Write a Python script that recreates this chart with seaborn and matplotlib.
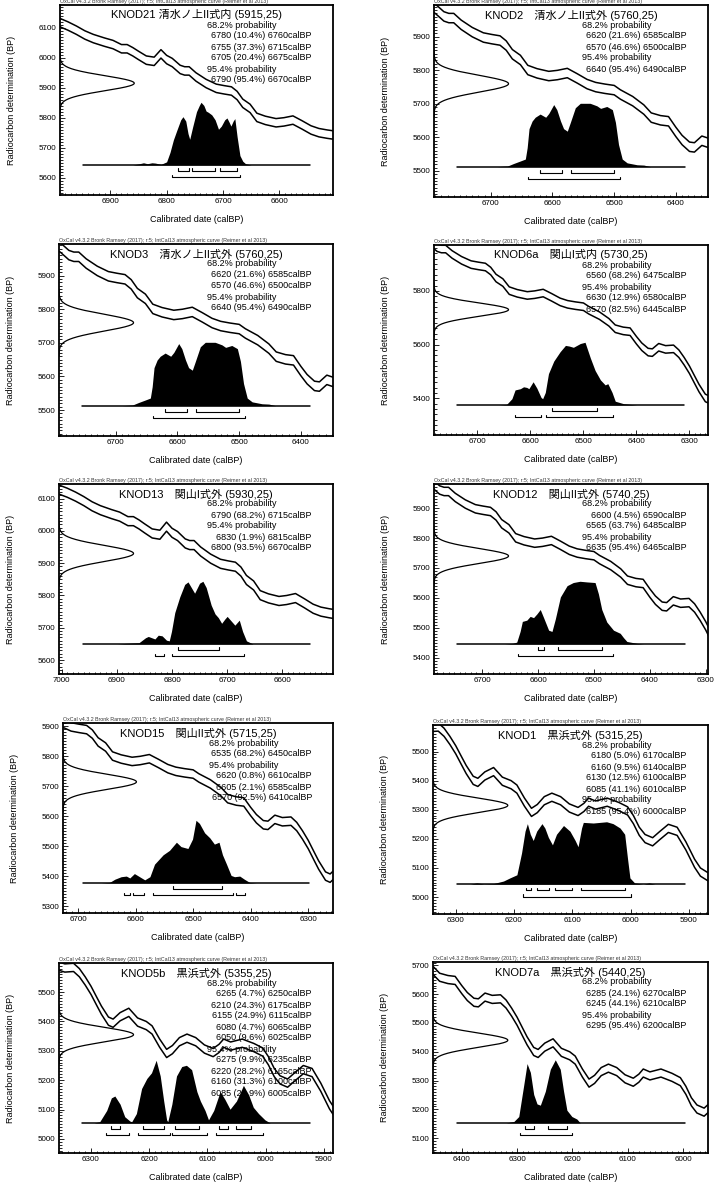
import numpy as np
import pandas as pd
import seaborn as sns
import matplotlib.pyplot as plt
from matplotlib.ticker import MultipleLocator
from matplotlib.transforms import blended_transform_factory

# IntCal13 midline (calBP -> 14C BP), band half-width
CURVE_CAL = [7010, 6990, 6975, 6960, 6945, 6930, 6910, 6895, 6880, 6870,
             6860, 6850, 6836, 6822, 6810, 6800, 6790, 6776, 6768, 6760,
             6748, 6730, 6712, 6698, 6685, 6675, 6665, 6652, 6640, 6625,
             6606, 6592, 6576, 6560, 6544, 6530, 6515, 6500, 6490, 6470,
             6452, 6440, 6425, 6412, 6400, 6390, 6378, 6370, 6358, 6345,
             6330, 6320, 6310, 6300, 6290, 6282, 6270, 6262, 6250, 6235,
             6220, 6205, 6195, 6182, 6170, 6160, 6148, 6135, 6120, 6105,
             6090, 6080, 6072, 6060, 6040, 6020, 6005, 5995, 5985, 5975,
             5962, 5950, 5935, 5920, 5905, 5890, 5880, 5860]
CURVE_BP = [6131, 6118, 6106, 6092, 6076, 6064, 6052, 6044, 6030, 6030,
            6020, 6008, 5992, 5988, 6013, 5994, 5984, 5961, 5956, 5956,
            5936, 5914, 5898, 5893, 5889, 5874, 5848, 5831, 5801, 5791,
            5783, 5786, 5792, 5776, 5759, 5750, 5745, 5741, 5728, 5708,
            5683, 5659, 5651, 5648, 5616, 5592, 5572, 5570, 5590, 5582,
            5584, 5566, 5538, 5506, 5468, 5438, 5401, 5394, 5416, 5431,
            5398, 5386, 5371, 5326, 5291, 5304, 5331, 5343, 5331, 5306,
            5294, 5308, 5326, 5316, 5326, 5311, 5296, 5266, 5226, 5201,
            5190, 5211, 5236, 5226, 5176, 5116, 5086, 5061]
CURVE_ERR = 14

# samples
TITLES = ["KNOD21 清水ノ上II式内 (5915,25)", "KNOD2\u3000清水ノ上II式外 (5760,25)",
          "KNOD3\u3000清水ノ上II式外 (5760,25)", "KNOD6a\u3000関山I式内 (5730,25)",
          "KNOD13\u3000関山I式外 (5930,25)", "KNOD12\u3000関山II式外 (5740,25)",
          "KNOD15\u3000関山II式外 (5715,25)", "KNOD1\u3000黒浜式外 (5315,25)",
          "KNOD5b\u3000黒浜式外 (5355,25)", "KNOD7a\u3000黒浜式外 (5440,25)"]
C14_BP = [5915, 5760, 5760, 5730, 5930, 5740, 5715, 5315, 5355, 5440]
C14_ERR = [25, 25, 25, 25, 25, 25, 25, 25, 25, 25]

# calibrated ranges (from, %, to)
r68_knod21 = [(6780, 10.4, 6760), (6755, 37.3, 6715), (6705, 20.4, 6675)]
r95_knod21 = [(6790, 95.4, 6670)]
r68_5760 = [(6620, 21.6, 6585), (6570, 46.6, 6500)]
r95_5760 = [(6640, 95.4, 6490)]
r68_knod6a = [(6560, 68.2, 6475)]
r95_knod6a = [(6630, 12.9, 6580), (6570, 82.5, 6445)]
r68_knod13 = [(6790, 68.2, 6715)]
r95_knod13 = [(6830, 1.9, 6815), (6800, 93.5, 6670)]
r68_knod12 = [(6600, 4.5, 6590), (6565, 63.7, 6485)]
r95_knod12 = [(6635, 95.4, 6465)]
r68_knod15 = [(6535, 68.2, 6450)]
r95_knod15 = [(6620, 0.8, 6610), (6605, 2.1, 6585), (6570, 92.5, 6410)]
r68_knod1 = [(6180, 5.0, 6170), (6160, 9.5, 6140), (6130, 12.5, 6100),
             (6085, 41.1, 6010)]
r95_knod1 = [(6185, 95.4, 6000)]
r68_knod5b = [(6265, 4.7, 6250), (6210, 24.3, 6175), (6155, 24.9, 6115),
              (6080, 4.7, 6065), (6050, 9.6, 6025)]
r95_knod5b = [(6275, 9.9, 6235), (6220, 28.2, 6165), (6160, 31.3, 6100),
              (6085, 25.9, 6005)]
r68_knod7a = [(6285, 24.1, 6270), (6245, 44.1, 6210)]
r95_knod7a = [(6295, 95.4, 6200)]
# KNOD15 95% bar is drawn split in the plot
bars95_knod15 = [(6620, 6610), (6605, 6585), (6570, 6430), (6425, 6410)]

# calibrated probability (relative)
post_knod21_cal = [6949, 6860, 6848, 6841, 6834, 6826, 6820, 6810, 6800, 6794,
                   6788, 6782, 6775, 6771, 6766, 6762, 6759, 6754, 6747, 6742,
                   6739, 6734, 6730, 6726, 6720, 6714, 6708, 6703, 6697, 6693,
                   6689, 6686, 6682, 6679, 6675, 6670, 6665, 6660, 6650, 6546]
post_knod21_p = [0, 0, 0.02, 0.035, 0.02, 0.035, 0.03, 0.01, 0.05, 0.2,
                 0.4, 0.55, 0.72, 0.77, 0.7, 0.5, 0.41, 0.6, 0.85, 0.95,
                 1.0, 0.95, 0.86, 0.84, 0.8, 0.72, 0.57, 0.62, 0.72, 0.75,
                 0.68, 0.62, 0.7, 0.74, 0.45, 0.15, 0.06, 0.02, 0, 0]

post_5760_cal = [6754, 6690, 6673, 6663, 6652, 6644, 6641, 6638, 6633, 6628,
                 6620, 6611, 6606, 6598, 6593, 6587, 6582, 6576, 6571, 6563,
                 6555, 6539, 6528, 6522, 6512, 6503, 6498, 6493, 6487, 6479,
                 6463, 6452, 6441, 6385]
post_5760_p = [0, 0, 0.01, 0.05, 0.09, 0.12, 0.3, 0.6, 0.72, 0.78,
               0.83, 0.78, 0.84, 0.98, 0.9, 0.72, 0.6, 0.56, 0.7, 0.93,
               1.0, 1.0, 0.96, 0.92, 0.95, 0.9, 0.7, 0.35, 0.12, 0.06,
               0.03, 0.025, 0, 0]

post_knod6a_cal = [6739, 6660, 6645, 6635, 6629, 6619, 6613, 6607, 6603, 6595,
                   6588, 6580, 6577, 6572, 6566, 6556, 6544, 6534, 6527, 6519,
                   6506, 6497, 6487, 6478, 6468, 6459, 6454, 6446, 6440, 6424,
                   6412, 6399, 6311]
post_knod6a_p = [0, 0, 0.01, 0.1, 0.24, 0.26, 0.29, 0.28, 0.26, 0.37,
                 0.27, 0.12, 0.1, 0.2, 0.5, 0.7, 0.85, 0.95, 0.94, 0.92,
                 0.98, 1.0, 0.75, 0.55, 0.4, 0.32, 0.34, 0.2, 0.06, 0.02,
                 0.01, 0, 0]

post_knod13_cal = [6962, 6900, 6883, 6860, 6848, 6843, 6837, 6831, 6825, 6818,
                   6810, 6805, 6801, 6795, 6786, 6777, 6771, 6765, 6759, 6750,
                   6744, 6738, 6729, 6722, 6716, 6710, 6704, 6700, 6692, 6686,
                   6678, 6672, 6665, 6653, 6550]
post_knod13_p = [0, 0, 0.01, 0.02, 0.1, 0.12, 0.1, 0.08, 0.14, 0.13,
                 0.06, 0.05, 0.2, 0.5, 0.75, 0.95, 0.99, 0.9, 0.81, 0.97,
                 1.0, 0.9, 0.62, 0.48, 0.42, 0.33, 0.4, 0.44, 0.36, 0.3,
                 0.38, 0.2, 0.05, 0, 0]

post_knod12_cal = [6745, 6660, 6645, 6638, 6632, 6628, 6620, 6614, 6608, 6602,
                   6596, 6590, 6581, 6575, 6569, 6560, 6548, 6537, 6525, 6513,
                   6498, 6492, 6486, 6477, 6465, 6453, 6447, 6441, 6423, 6411,
                   6337]
post_knod12_p = [0, 0, 0.01, 0.03, 0.2, 0.36, 0.38, 0.44, 0.42, 0.48,
                 0.55, 0.42, 0.22, 0.2, 0.4, 0.75, 0.93, 0.98, 1.0, 0.99,
                 0.98, 0.8, 0.55, 0.35, 0.22, 0.17, 0.1, 0.04, 0.01, 0,
                 0]

post_knod15_cal = [6692, 6660, 6645, 6636, 6625, 6616, 6610, 6602, 6593, 6584,
                   6575, 6567, 6552, 6541, 6529, 6521, 6509, 6501, 6495, 6489,
                   6480, 6471, 6463, 6455, 6449, 6442, 6434, 6428, 6419, 6411,
                   6402, 6390, 6298]
post_knod15_p = [0, 0, 0.01, 0.06, 0.1, 0.11, 0.08, 0.15, 0.1, 0.05,
                 0.1, 0.3, 0.45, 0.52, 0.65, 0.58, 0.55, 0.7, 1.0, 0.95,
                 0.8, 0.72, 0.62, 0.65, 0.45, 0.3, 0.12, 0.1, 0.11, 0.06,
                 0.01, 0, 0]

post_knod1_cal = [6298, 6275, 6264, 6252, 6235, 6218, 6207, 6195, 6187, 6181,
                  6177, 6172, 6167, 6161, 6152, 6147, 6141, 6134, 6127, 6115,
                  6104, 6095, 6090, 6084, 6081, 6064, 6041, 6030, 6018, 6010,
                  6005, 6001, 5993, 5978, 5968, 5958, 5907]
post_knod1_p = [0, 0, 0.02, 0.005, 0.01, 0.05, 0.1, 0.15, 0.5, 0.85,
                0.97, 0.8, 0.7, 0.85, 0.97, 0.9, 0.75, 0.63, 0.8, 0.94,
                0.85, 0.7, 0.6, 0.9, 0.99, 0.98, 1.0, 0.97, 0.9, 0.8,
                0.4, 0.1, 0.02, 0, 0.02, 0, 0]

post_knod5b_cal = [6315, 6295, 6285, 6273, 6265, 6259, 6250, 6242, 6233, 6230,
                   6222, 6213, 6204, 6196, 6188, 6181, 6175, 6170, 6168, 6161,
                   6153, 6144, 6136, 6127, 6118, 6112, 6104, 6098, 6089, 6078,
                   6070, 6061, 6050, 6038, 6029, 6021, 6012, 6001, 5992, 5923]
post_knod5b_p = [0, 0, 0.02, 0.2, 0.4, 0.43, 0.3, 0.1, 0.03, 0.02,
                 0.15, 0.55, 0.71, 0.8, 1.0, 0.75, 0.35, 0.05, 0.02, 0.3,
                 0.75, 0.9, 0.92, 0.85, 0.5, 0.35, 0.2, 0.05, 0.2, 0.5,
                 0.38, 0.22, 0.35, 0.6, 0.45, 0.25, 0.15, 0.05, 0, 0]

post_knod7a_cal = [6408, 6320, 6306, 6297, 6288, 6282, 6276, 6270, 6264, 6258,
                   6249, 6240, 6231, 6222, 6216, 6210, 6201, 6192, 6186, 5996]
post_knod7a_p = [0, 0, 0.02, 0.1, 0.6, 0.94, 0.8, 0.45, 0.3, 0.28,
                 0.5, 0.85, 1.0, 0.85, 0.5, 0.2, 0.1, 0.06, 0, 0]

R68 = [r68_knod21, r68_5760, r68_5760, r68_knod6a, r68_knod13, r68_knod12,
       r68_knod15, r68_knod1, r68_knod5b, r68_knod7a]
R95 = [r95_knod21, r95_5760, r95_5760, r95_knod6a, r95_knod13, r95_knod12,
       r95_knod15, r95_knod1, r95_knod5b, r95_knod7a]
POST = [(post_knod21_cal, post_knod21_p), (post_5760_cal, post_5760_p),
        (post_5760_cal, post_5760_p), (post_knod6a_cal, post_knod6a_p),
        (post_knod13_cal, post_knod13_p), (post_knod12_cal, post_knod12_p),
        (post_knod15_cal, post_knod15_p), (post_knod1_cal, post_knod1_p),
        (post_knod5b_cal, post_knod5b_p), (post_knod7a_cal, post_knod7a_p)]

# layout: panel box in pixels (left, top, right, bottom), axis ranges, y step
RECTS = [(60, 5, 333, 195), (434, 5, 708, 197),
         (59, 244, 333, 436), (434, 245, 708, 435),
         (59, 484, 333, 674), (434, 484, 708, 674),
         (63, 723, 333, 913), (433, 725, 708, 914),
         (59, 963, 333, 1153), (433, 962, 708, 1153)]
XLIMS = [(6989, 6505), (6792, 6348), (6792, 6348), (6782, 6265), (7005, 6508),
         (6786, 6296), (6726, 6257), (6339, 5867), (6355, 5884), (6452, 5955)]
YLIMS = [(5542, 6176), (5422, 5995), (5423, 5994), (5263, 5971), (5557, 6145),
         (5345, 5981), (5278, 5911), (4942, 5591), (4952, 5599), (5048, 5712)]
YSTEP = [100, 100, 100, 200, 100, 100, 100, 100, 100, 100]

HEADER = ("OxCal v4.3.2 Bronk Ramsey (2017); r:5; "
          "IntCal13 atmospheric curve (Reimer et al 2013)")

sns.set_theme(style="white", rc={"axes.edgecolor": "black",
                                 "xtick.color": "black", "ytick.color": "black",
                                 "text.color": "black", "axes.labelcolor": "black"})
plt.rcParams["font.family"] = ["Liberation Sans", "Noto Sans CJK JP", "DejaVu Sans"]

W, H = 720, 1184
fig = plt.figure(figsize=(W / 100, H / 100), dpi=100)

curve = pd.DataFrame({"cal": CURVE_CAL, "bp": CURVE_BP})
curve["hi"] = curve["bp"] + CURVE_ERR
curve["lo"] = curve["bp"] - CURVE_ERR

BASE = 0.158   # posterior baseline (axes fraction)
PH = 0.33      # posterior max height
GW = 0.272     # gaussian max width

for i, title in enumerate(TITLES):
    l, t, r, b = RECTS[i]
    ax = fig.add_axes([l / W, 1 - b / H, (r - l) / W, (b - t) / H])
    hpx = b - t

    # calibration curve band
    for col in ["hi", "lo"]:
        sns.lineplot(data=curve, x="cal", y=col, ax=ax, color="black",
                     lw=1.1, estimator=None, sort=False)

    # measured date on the y axis
    mu, sd = C14_BP[i], C14_ERR[i]
    yy = np.linspace(mu - 4 * sd, mu + 4 * sd, 300)
    dens = np.exp(-0.5 * ((yy - mu) / sd) ** 2)
    tr_y = blended_transform_factory(ax.transAxes, ax.transData)
    ax.plot(dens * GW, yy, transform=tr_y, color="black", lw=0.9)

    # calibrated distribution
    tr_x = blended_transform_factory(ax.transData, ax.transAxes)
    pc, pp = POST[i]
    pc = np.array(pc)
    pp = np.array(pp)
    ax.fill_between(pc, BASE, BASE + PH * pp, transform=tr_x,
                    color="black", lw=0)
    ax.plot([pc.min(), pc.max()], [BASE, BASE], transform=tr_x,
            color="black", lw=1.1)

    # range bars
    tick = 2.6 / hpx
    y68 = BASE - 6 / hpx
    y95 = BASE - 12.5 / hpx
    bars95 = bars95_knod15 if i == 6 else [(a, c) for a, _, c in R95[i]]
    for rows, yb in [([(a, c) for a, _, c in R68[i]], y68), (bars95, y95)]:
        for a, c in rows:
            ax.plot([a, a, c, c], [yb + tick, yb, yb, yb + tick],
                    transform=tr_x, color="black", lw=0.8)

    # texts
    ax.text(0.5, 1 - 10 / hpx, title, transform=ax.transAxes,
            ha="center", va="center", fontsize=8)
    lines = [("68.2% probability", "l")]
    lines += [(f"{a} ({p:.1f}%) {c}calBP", "r") for a, p, c in R68[i]]
    lines += [("95.4% probability", "l")]
    lines += [(f"{a} ({p:.1f}%) {c}calBP", "r") for a, p, c in R95[i]]
    for k, (s, side) in enumerate(lines):
        yk = 1 - (20 + 11 * k) / hpx
        if side == "l":
            ax.text(0.54, yk, s, transform=ax.transAxes, ha="left",
                    va="center", fontsize=6.5)
        else:
            ax.text(0.922, yk, s, transform=ax.transAxes, ha="right",
                    va="center", fontsize=6.5)
    ax.text(0.0, 1.004, HEADER, transform=ax.transAxes, ha="left",
            va="bottom", fontsize=3.8, color="#333333")

    # axes
    ax.set_xlim(*XLIMS[i])
    ax.set_ylim(*YLIMS[i])
    ax.xaxis.set_major_locator(MultipleLocator(100))
    ax.xaxis.set_minor_locator(MultipleLocator(10))
    ax.yaxis.set_major_locator(MultipleLocator(YSTEP[i]))
    ax.yaxis.set_minor_locator(MultipleLocator(YSTEP[i] / 10))
    ax.ticklabel_format(useOffset=False)
    ax.tick_params(which="both", direction="in", left=True, bottom=True,
                   top=False, right=False, labelsize=5.8, width=0.6)
    ax.tick_params(which="major", length=3.5, pad=2.5)
    ax.tick_params(which="minor", length=1.8)
    for sp in ax.spines.values():
        sp.set_linewidth(1.3)
    ax.set_xlabel("Calibrated date (calBP)", fontsize=6.5)
    ax.set_ylabel("Radiocarbon determination (BP)", fontsize=6.5)
    ax.xaxis.set_label_coords(0.5, -20 / hpx)
    ax.yaxis.set_label_coords(-44 / (r - l), 0.5)

fig.savefig("out.png", dpi=100)
